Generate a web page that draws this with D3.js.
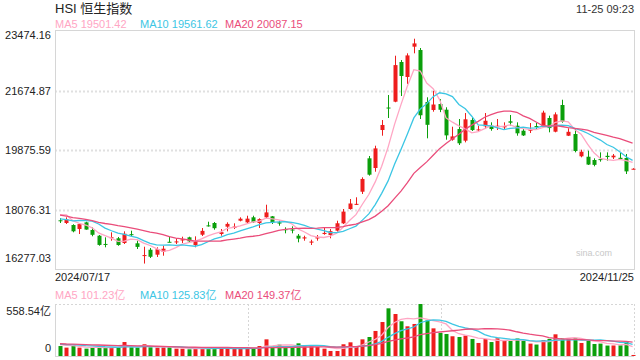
<!DOCTYPE html>
<html><head><meta charset="utf-8">
<script src="https://cdn.jsdelivr.net/npm/d3@7"></script>
<style>
body{margin:0;background:#fff}
svg{display:block}
text{font-family:Arial,"Liberation Sans","Noto Sans CJK SC",sans-serif}
</style>
</head><body>
<svg id="chart" width="640" height="360"></svg>
<script>
const dates = [
"2024/07/17","2024/07/18","2024/07/19","2024/07/22","2024/07/23","2024/07/24","2024/07/25","2024/07/26","2024/07/29","2024/07/30","2024/07/31",
"2024/08/01","2024/08/02","2024/08/05","2024/08/06","2024/08/07","2024/08/08","2024/08/09","2024/08/12","2024/08/13","2024/08/14","2024/08/15","2024/08/16","2024/08/19","2024/08/20","2024/08/21","2024/08/22","2024/08/23","2024/08/26","2024/08/27","2024/08/28","2024/08/29","2024/08/30",
"2024/09/02","2024/09/03","2024/09/04","2024/09/05","2024/09/09","2024/09/10","2024/09/11","2024/09/12","2024/09/13","2024/09/16","2024/09/17","2024/09/19","2024/09/20","2024/09/23","2024/09/24","2024/09/25","2024/09/26","2024/09/27","2024/09/30",
"2024/10/02","2024/10/03","2024/10/04","2024/10/07","2024/10/08","2024/10/09","2024/10/10","2024/10/14","2024/10/15","2024/10/16","2024/10/17","2024/10/18","2024/10/21","2024/10/22","2024/10/23","2024/10/24","2024/10/25","2024/10/28","2024/10/29","2024/10/30","2024/10/31",
"2024/11/01","2024/11/04","2024/11/05","2024/11/06","2024/11/07","2024/11/08","2024/11/11","2024/11/12","2024/11/13","2024/11/14","2024/11/15","2024/11/18","2024/11/19","2024/11/20","2024/11/21","2024/11/22","2024/11/25"];

const open = [17750,17668,17607,17486,17688,17456,17284,17035,17215,17205,17063,17330,17054,16670,16860,16710,16800,17100,17100,17140,17235,17002,17314,17596,17668,17335,17557,17520,17737,17687,17840,17668,17840,
17870,17690,17480,17470,17284,17200,17074,17200,17335,17305,17436,17658,18091,18230,18614,19624,19331,20480,21160,
21336,22537,22083,23000,22899,21327,21085,21266,21094,20187,20510,20157,20783,20480,20591,20610,20591,20561,20743,20610,20459,
20459,20600,20610,20843,20429,21236,20308,20359,19685,19672,19573,19600,19700,19654,19640,19633,19295];
const high = [17819,17840,17630,17650,17707,17538,17305,17235,17386,17245,17416,17436,17133,16951,16912,16933,16981,17254,17205,17254,17254,17265,17516,17707,17698,17486,17688,17658,17840,17888,17888,17809,18221,
17880,17737,17538,17567,17335,17284,17163,17305,17538,17486,17737,18091,18394,18445,19050,19694,20006,20782,21539,
22727,22597,22799,23241,22960,21469,21669,21417,21167,20580,20813,20994,20864,20610,20994,20712,20813,20712,20934,20712,20510,
20692,20692,21064,20913,21014,21396,20531,20510,19885,19854,19624,19805,19805,19755,19805,19755,19325];
const low = [17668,17638,17387,17335,17465,17266,16981,16933,17132,16981,17033,17266,16882,16441,16609,16640,16679,17085,17033,17063,17063,16933,17275,17560,17465,17284,17416,17486,17718,17658,17668,17517,17809,
17638,17586,17356,17356,17084,17133,17002,17133,17314,17205,17405,17638,18071,18212,18545,19100,19219,20308,20843,
21320,21508,21871,22799,20813,20229,21034,21020,20187,20157,20027,20107,20450,20429,20510,20459,20480,20480,20610,20308,20300,
20389,20490,20600,20410,20410,20700,20298,19805,19655,19422,19382,19523,19553,19603,19583,19149,19290];
const close = [17739,17778,17417,17635,17469,17311,17005,17021,17238,17002,17344,17304,16945,16698,16647,16877,16891,17090,17111,17174,17113,17109,17430,17569,17511,17391,17641,17560,17798,17800,17692,17786,17989,
17691,17651,17457,17444,17196,17234,17108,17240,17369,17422,17660,18013,18258,18247,19000,19129,19924,20632,21133,
22443,22113,22736,23099,20926,20637,21251,21092,20318,20286,20079,20804,20478,20498,20760,20510,20610,20599,20701,20380,20317,
20506,20567,21006,20538,20953,20728,20426,19846,19823,19435,19426,19576,19663,19705,19601,19229,19309];
const volume = [107,90,115,90,79,93,93,90,90,93,150,93,90,126,93,90,93,93,79,79,72,79,83,79,86,79,90,79,79,79,79,107,179,
100,122,90,101,136,107,107,97,79,54,54,126,147,97,179,204,269,365,512,
451,373,319,344,558.54,383,297,247,236,212,204,219,183,140,183,150,190,169,161,188,161,
133,123,171,184,233,192,184,190,140,161,129,133,112,113,115,155,11];
// closes / volumes of the 19 sessions before the first day (needed for the moving averages)
const priorCloses = [18430,18335,18029,18028,18073,18090,17716,17719,17769,17979,18028,17800,17524,17523,17472,17832,18293,18016,17728];
const priorVolumes = [150,135,160,128,120,140,145,130,118,135,142,125,120,138,132,130,140,122,118];

const priceTicks = ["16277.03","18076.31","19875.59","21674.87","23474.16"];
const volTicks = ["0","558.54亿"];
const maPeriods = [5,10,20];
const maLabels = ["MA5 19501.42","MA10 19561.62","MA20 20087.15"];
const volMaLabels = ["MA5 101.23亿","MA10 125.83亿","MA20 149.37亿"];
const title = "HSI 恒生指数";
const timeLabel = "11-25 09:23";

const RED = "#ee1d1d", GREEN = "#0b9f0b";
const MA_COLORS = ["#ffa6c4", "#3cc6e4", "#ea4d7b"];

const svg = d3.select("#chart");
const L = 55, R = 634, T = 30, B = 269;
const VT = 304, VB = 356;

const x = d3.scaleBand().domain(dates).range([56.8, 635.8]).padding(0);
const cx = d => x(d) + x.bandwidth() / 2;
const y = d3.scaleLinear().domain([+priceTicks[0], +priceTicks[4]]).range([B, T + 1]);
const yv = d3.scaleLinear().domain([0, 558.54]).range([VB, VT]);

function movingAvg(prior, vals, n) {
  const all = prior.concat(vals);
  const off = prior.length;
  return vals.map((v, i) => d3.mean(all.slice(off + i - n + 1, off + i + 1)));
}

// title row
svg.append("text").attr("x", 55).attr("y", 12.5).attr("font-size", 13).attr("fill", "#222").text(title);
svg.append("text").attr("x", R).attr("y", 12.5).attr("font-size", 11).attr("fill", "#333").attr("text-anchor", "end").text(timeLabel);
const maX = [55, 140, 225];
maLabels.forEach((t, i) => svg.append("text").attr("x", maX[i]).attr("y", 27.5).attr("font-size", 11).attr("fill", MA_COLORS[i]).text(t));

// main frame + grid
const grid = svg.append("g");
priceTicks.slice(1, 4).forEach(t => {
  grid.append("line").attr("x1", L).attr("x2", R).attr("y1", Math.round(y(+t)) + 0.5).attr("y2", Math.round(y(+t)) + 0.5)
    .attr("stroke", "#e0e0e0").attr("stroke-width", 2).attr("stroke-dasharray", "2,2");
});
svg.append("rect").attr("x", L + 0.5).attr("y", T + 0.5).attr("width", R - L).attr("height", B - T)
  .attr("fill", "none").attr("stroke", "#d6d6d6");

// y labels
priceTicks.forEach((t, i) => {
  let yy = y(+t) + 4;
  if (i === 4) yy = T + 9;
  if (i === 0) yy = B - 7;
  svg.append("text").attr("x", 51).attr("y", yy).attr("font-size", 11).attr("fill", "#222").attr("text-anchor", "end").text(t);
});

svg.append("text").attr("x", 612).attr("y", 256).attr("font-size", 9).attr("fill", "#c8c8c8").attr("text-anchor", "end").text("sina.com");

// candles
const data = dates.map((d, i) => ({d, o: open[i], h: high[i], l: low[i], c: close[i], v: volume[i]}));
const bw = 4;
const cg = svg.append("g");
data.forEach(k => {
  const col = k.c >= k.o ? RED : GREEN;
  const xc = Math.round(cx(k.d));
  cg.append("line").attr("x1", xc + 0.5).attr("x2", xc + 0.5).attr("y1", y(k.h)).attr("y2", y(k.l)).attr("stroke", col).attr("stroke-width", 1);
  const top = y(Math.max(k.o, k.c)), bot = y(Math.min(k.o, k.c));
  cg.append("rect").attr("x", xc - 1.5).attr("y", top).attr("width", bw).attr("height", Math.max(1, bot - top)).attr("fill", col);
});

// MA lines
const line = d3.line().x((v, i) => cx(dates[i])).y(v => y(v));
maPeriods.forEach((n, j) => {
  svg.append("path").attr("d", line(movingAvg(priorCloses, close, n))).attr("fill", "none")
    .attr("stroke", MA_COLORS[j]).attr("stroke-width", 1.3);
});

// dates
svg.append("text").attr("x", 55).attr("y", 281).attr("font-size", 11).attr("fill", "#222").text(dates[0]);
svg.append("text").attr("x", R).attr("y", 281).attr("font-size", 11).attr("fill", "#222").attr("text-anchor", "end").text(dates[dates.length - 1]);

// volume labels
volMaLabels.forEach((t, i) => svg.append("text").attr("x", maX[i]).attr("y", 298.5).attr("font-size", 11).attr("fill", MA_COLORS[i]).text(t));
svg.append("text").attr("x", 51).attr("y", 315).attr("font-size", 11).attr("fill", "#222").attr("text-anchor", "end").text(volTicks[1]);
svg.append("text").attr("x", 51).attr("y", 352).attr("font-size", 11).attr("fill", "#222").attr("text-anchor", "end").text(volTicks[0]);

// volume frame
const dotted = {stroke: "#d6d6d6", "stroke-width": 1, "stroke-dasharray": "2,2"};
function dl(x1, y1, x2, y2, st) {
  const l = svg.append("line").attr("x1", x1).attr("y1", y1).attr("x2", x2).attr("y2", y2);
  Object.entries(st).forEach(([k, v]) => l.attr(k, v));
}
dl(L, VT + 0.5, R, VT + 0.5, dotted);
dl(R + 0.5, VT, R + 0.5, VB, dotted);
const third = (R - L) / 3;
dl(Math.round(L + third) + 0.5, VT, Math.round(L + third) + 0.5, VB, dotted);
dl(Math.round(L + 2 * third) + 0.5, VT, Math.round(L + 2 * third) + 0.5, VB, dotted);
dl(L + 0.5, VT, L + 0.5, VB, {stroke: "#d6d6d6", "stroke-width": 1});
dl(L, VB + 0.5, R, VB + 0.5, {stroke: "#d6d6d6", "stroke-width": 1});

// volume bars
const vg = svg.append("g");
data.forEach(k => {
  const col = k.c >= k.o ? RED : GREEN;
  const xc = Math.round(cx(k.d));
  vg.append("rect").attr("x", xc - 1.5).attr("y", yv(k.v)).attr("width", bw).attr("height", VB - yv(k.v)).attr("fill", col);
});
const vline = d3.line().x((v, i) => cx(dates[i])).y(v => yv(v));
maPeriods.forEach((n, j) => {
  svg.append("path").attr("d", vline(movingAvg(priorVolumes, volume, n))).attr("fill", "none")
    .attr("stroke", MA_COLORS[j]).attr("stroke-width", 1.3);
});
</script>
</body></html>
